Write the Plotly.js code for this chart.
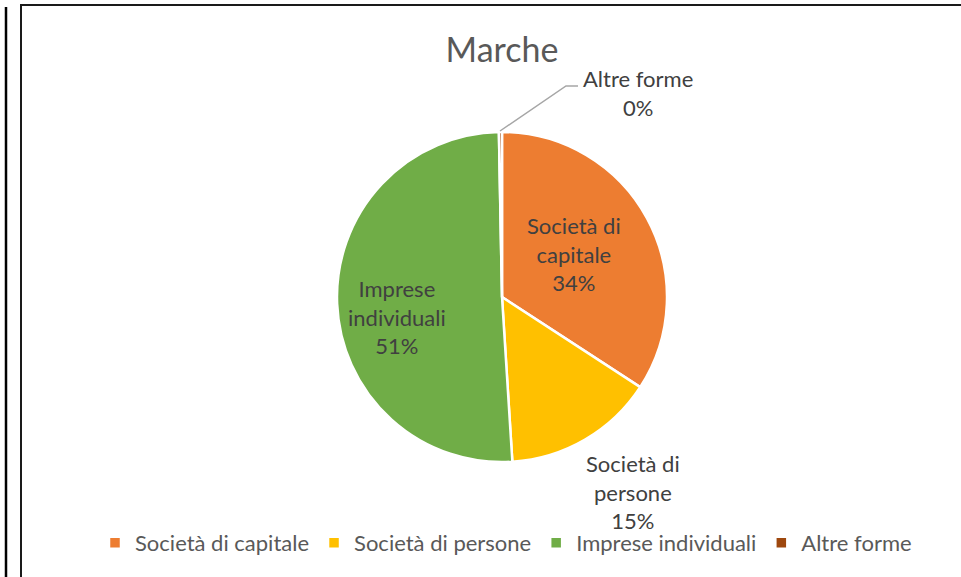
<!DOCTYPE html>
<html>
<head>
<meta charset="utf-8">
<script src="https://cdn.plot.ly/plotly-3.0.1.min.js"></script>
<style>html,body{margin:0;padding:0;background:#fff;}#chart{width:961px;height:577px;}</style>
</head>
<body>
<div id="chart"></div>
<script>
// Data
const categories = ['Società di capitale', 'Società di persone', 'Imprese individuali', 'Altre forme'];
const labelLines = ['Società di<br>capitale', 'Società di<br>persone', 'Imprese<br>individuali', 'Altre forme'];
const shares = [34.2, 14.8, 50.7, 0.3];
const colors = ['#ED7D31', '#FFC000', '#70AD47', '#9E480E'];
const chartTitle = 'Marche';

const W = 961, H = 577;
const px = x => x / W;
const py = y => 1 - y / H;

const total = shares.reduce((a, b) => a + b, 0);
const pct = shares.map(v => Math.round(v / total * 100) + '%');

// label placement (pixel centres)
const labelPos = [[574, 254], [633, 492], [397, 317], [638, 93]];

const FONT = 'Lato, "Open Sans", sans-serif';

const trace = {
  type: 'pie',
  labels: categories,
  values: shares,
  sort: false,
  direction: 'clockwise',
  rotation: 0,
  marker: {colors: colors, line: {color: '#FFFFFF', width: 2.5}},
  textinfo: 'none',
  hoverinfo: 'label+percent',
  domain: {x: [px(502 - 165), px(502 + 165)], y: [py(297 + 165), py(297 - 165)]}
};

const annotations = categories.map((c, i) => ({
  xref: 'paper', yref: 'paper',
  x: px(labelPos[i][0]), y: py(labelPos[i][1]),
  xanchor: 'center', yanchor: 'middle',
  text: labelLines[i] + '<br>' + pct[i],
  showarrow: false,
  font: {family: FONT, size: 22, color: '#404040'}
}));

const shapes = [
  {type: 'line', xref: 'paper', yref: 'paper', x0: px(6), x1: px(6), y0: py(7), y1: py(577), line: {color: '#000000', width: 2.5}},
  {type: 'line', xref: 'paper', yref: 'paper', x0: px(21), x1: px(21), y0: py(5), y1: py(577), line: {color: '#1a1a1a', width: 2}},
  {type: 'line', xref: 'paper', yref: 'paper', x0: px(20), x1: px(961), y0: py(5), y1: py(5), line: {color: '#1a1a1a', width: 2}},
  {type: 'path', xref: 'paper', yref: 'paper',
   path: 'M ' + px(500) + ' ' + py(131) + ' L ' + px(566) + ' ' + py(86) + ' L ' + px(578) + ' ' + py(86),
   line: {color: '#A6A6A6', width: 1.5}}
];

const layout = {
  width: W, height: H,
  margin: {l: 0, r: 0, t: 0, b: 0, autoexpand: false},
  paper_bgcolor: '#FFFFFF',
  title: {text: chartTitle, x: px(502), xanchor: 'center', y: py(50), yanchor: 'middle',
          font: {family: FONT, size: 34, color: '#595959'}},
  showlegend: true,
  legend: {orientation: 'h', x: px(95), xanchor: 'left', y: py(543), yanchor: 'middle',
           font: {family: FONT, size: 22, color: '#595959'}, itemwidth: 30, traceorder: 'normal'},
  annotations: annotations,
  shapes: shapes
};

Plotly.newPlot('chart', [trace], layout, {displayModeBar: false, staticPlot: true});
</script>
</body>
</html>
